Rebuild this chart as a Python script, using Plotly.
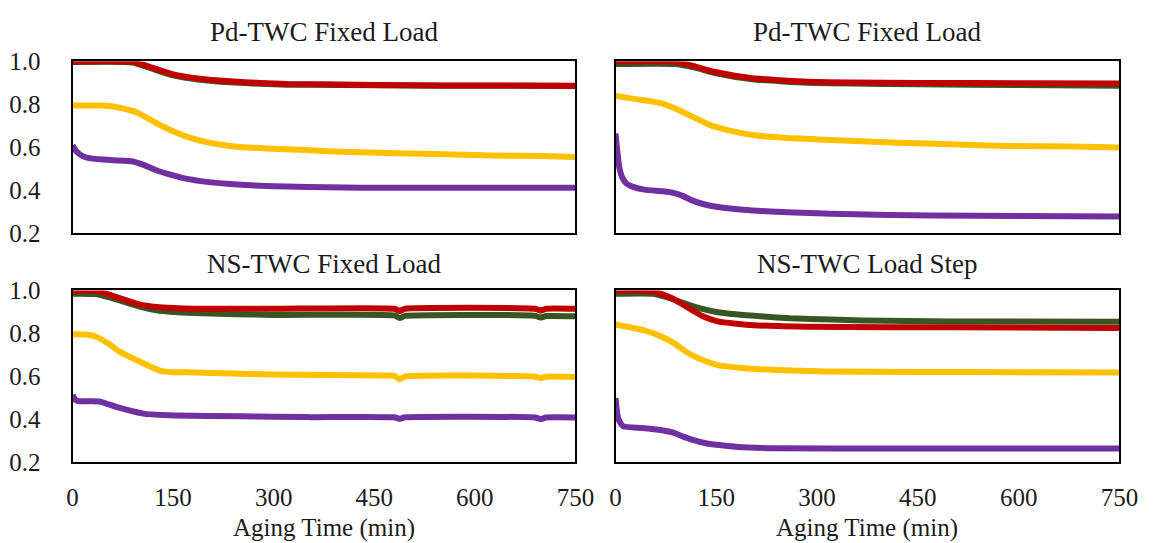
import plotly.graph_objects as go

# ---- Panel titles and axis labels ----
panel_titles = ["Pd-TWC Fixed Load", "Pd-TWC Fixed Load", "NS-TWC Fixed Load", "NS-TWC Load Step"]
x_title = "Aging Time (min)"
x_ticks = [0, 150, 300, 450, 600, 750]
y_ticks = [0.2, 0.4, 0.6, 0.8, 1.0]

# ---- Panel 1: Pd-TWC Fixed Load ----
p1_red_t = [0, 90, 120, 150, 190, 235, 280, 320, 400, 500, 600, 750]
p1_red = [1.0, 0.998, 0.97, 0.94, 0.92, 0.908, 0.9, 0.895, 0.893, 0.889, 0.888, 0.887]
p1_green_t = [0, 90, 120, 150, 190, 235, 280, 320, 400, 500, 600, 750]
p1_green = [0.997, 0.995, 0.965, 0.935, 0.915, 0.903, 0.896, 0.892, 0.891, 0.888, 0.887, 0.886]
p1_yellow_t = [0, 45, 70, 96, 124, 150, 169, 200, 235, 290, 347, 400, 458, 540, 625, 700, 750]
p1_yellow = [0.795, 0.795, 0.785, 0.763, 0.715, 0.675, 0.652, 0.625, 0.607, 0.595, 0.588, 0.58, 0.575, 0.57, 0.563, 0.56, 0.556]
p1_purple_t = [0, 5, 15, 30, 60, 90, 105, 124, 150, 169, 200, 235, 280, 320, 380, 430, 550, 750]
p1_purple = [0.61, 0.585, 0.56, 0.548, 0.541, 0.535, 0.52, 0.495, 0.47, 0.455, 0.44, 0.43, 0.422, 0.418, 0.415, 0.413, 0.413, 0.413]

# ---- Panel 2: Pd-TWC Fixed Load ----
p2_red_t = [0, 90, 120, 150, 204, 250, 285, 350, 450, 600, 750]
p2_red = [1.0, 0.998, 0.975, 0.95, 0.922, 0.912, 0.906, 0.902, 0.9, 0.899, 0.898]
p2_green_t = [0, 90, 120, 150, 204, 250, 285, 350, 450, 600, 750]
p2_green = [0.988, 0.988, 0.97, 0.945, 0.917, 0.907, 0.901, 0.897, 0.894, 0.89, 0.887]
p2_yellow_t = [0, 30, 70, 97, 120, 140, 170, 204, 250, 312, 419, 500, 580, 680, 750]
p2_yellow = [0.84, 0.825, 0.804, 0.77, 0.735, 0.705, 0.678, 0.658, 0.645, 0.636, 0.622, 0.615, 0.607, 0.605, 0.6]
p2_purple_t = [0, 3, 6, 10, 16, 25, 43, 70, 86, 100, 113, 130, 150, 190, 231, 300, 339, 473, 600, 750]
p2_purple = [0.665, 0.57, 0.5, 0.46, 0.433, 0.418, 0.404, 0.396, 0.389, 0.375, 0.355, 0.337, 0.324, 0.31, 0.302, 0.294, 0.29, 0.283, 0.281, 0.279]

# ---- Panel 3: NS-TWC Fixed Load ----
p3_red_t = [0, 35, 69, 100, 125, 150, 181, 300, 480, 488, 496, 690, 698, 706, 750]
p3_red = [1.0, 0.998, 0.966, 0.935, 0.923, 0.918, 0.915, 0.915, 0.915, 0.905, 0.915, 0.915, 0.906, 0.915, 0.915]
p3_green_t = [0, 35, 69, 100, 125, 150, 181, 300, 480, 488, 496, 690, 698, 706, 750]
p3_green = [0.985, 0.983, 0.955, 0.925, 0.908, 0.9, 0.895, 0.886, 0.884, 0.872, 0.882, 0.882, 0.874, 0.881, 0.88]
p3_yellow_t = [0, 20, 35, 55, 69, 97, 131, 150, 181, 294, 462, 480, 488, 496, 690, 698, 706, 750]
p3_yellow = [0.796, 0.795, 0.785, 0.75, 0.718, 0.674, 0.626, 0.62, 0.619, 0.609, 0.604, 0.603, 0.587, 0.6, 0.599, 0.592, 0.599, 0.598]
p3_purple_t = [0, 5, 10, 40, 69, 108, 153, 250, 350, 480, 488, 496, 690, 698, 706, 750]
p3_purple = [0.514, 0.49, 0.485, 0.484, 0.455, 0.426, 0.419, 0.415, 0.411, 0.41, 0.403, 0.41, 0.409, 0.402, 0.409, 0.409]

# ---- Panel 4: NS-TWC Load Step ----
p4_red_t = [0, 50, 70, 87, 100, 114, 130, 152, 180, 206, 250, 287, 400, 600, 750]
p4_red = [1.0, 0.998, 0.982, 0.959, 0.935, 0.908, 0.88, 0.856, 0.845, 0.838, 0.834, 0.831, 0.829, 0.828, 0.826]
p4_green_t = [0, 55, 75, 98, 125, 150, 179, 220, 260, 320, 368, 500, 750]
p4_green = [0.985, 0.985, 0.97, 0.945, 0.918, 0.9, 0.889, 0.879, 0.871, 0.865, 0.86, 0.856, 0.854]
p4_yellow_t = [0, 20, 44, 65, 87, 105, 125, 152, 180, 206, 260, 314, 450, 600, 750]
p4_yellow = [0.842, 0.83, 0.813, 0.79, 0.755, 0.715, 0.682, 0.653, 0.642, 0.635, 0.628, 0.623, 0.621, 0.62, 0.619]
p4_purple_t = [0, 2, 4, 8, 12, 40, 71, 85, 98, 115, 136, 160, 179, 233, 400, 750]
p4_purple = [0.5, 0.44, 0.405, 0.38, 0.368, 0.36, 0.349, 0.34, 0.324, 0.305, 0.288, 0.279, 0.273, 0.266, 0.265, 0.265]

COLORS = {"green": "#375623", "red": "#C00000", "yellow": "#FFC000", "purple": "#7030A0"}
FONT = "Liberation Serif, Times New Roman, serif"
TXT = "#1a1a1a"
TICK_SIZE = 25
TITLE_SIZE = 27
AXIS_TITLE_SIZE = 25

panels = [
    {"green": (p1_green_t, p1_green), "red": (p1_red_t, p1_red),
     "yellow": (p1_yellow_t, p1_yellow), "purple": (p1_purple_t, p1_purple)},
    {"green": (p2_green_t, p2_green), "red": (p2_red_t, p2_red),
     "yellow": (p2_yellow_t, p2_yellow), "purple": (p2_purple_t, p2_purple)},
    {"green": (p3_green_t, p3_green), "red": (p3_red_t, p3_red),
     "yellow": (p3_yellow_t, p3_yellow), "purple": (p3_purple_t, p3_purple)},
    {"green": (p4_green_t, p4_green), "red": (p4_red_t, p4_red),
     "yellow": (p4_yellow_t, p4_yellow), "purple": (p4_purple_t, p4_purple)},
]

W, H = 1157, 543
# plot-area boxes in pixels: (left, right, top, bottom)
boxes = [(68, 582, 51, 232), (623, 1138, 51, 232), (68, 582, 292, 473), (623, 1138, 292, 473)]

fig = go.Figure()
layout = {}
for i, (panel, box) in enumerate(zip(panels, boxes)):
    n = "" if i == 0 else str(i + 1)
    for name in ["green", "red", "yellow", "purple"]:
        t, v = panel[name]
        fig.add_trace(go.Scatter(
            x=t, y=v, mode="lines", xaxis="x" + n, yaxis="y" + n,
            line=dict(color=COLORS[name], width=6, shape="spline", smoothing=0.5),
            showlegend=False, hoverinfo="skip"))
    left, right, top, bottom = box
    bottom_row = i >= 2
    left_col = i % 2 == 0
    layout["xaxis" + n] = dict(
        domain=[left / W, right / W], anchor="y" + n, range=[0, 750],
        tickvals=x_ticks, showticklabels=bottom_row, ticks="",
        ticklabelstandoff=12, showgrid=False, zeroline=False,
        showline=True, linecolor="black", linewidth=2, mirror=True,
        tickfont=dict(family=FONT, size=TICK_SIZE, color=TXT))
    layout["yaxis" + n] = dict(
        domain=[1 - bottom / H, 1 - top / H], anchor="x" + n, range=[0.2, 1.0],
        tickvals=y_ticks, tickformat=".1f", showticklabels=left_col, ticks="",
        ticklabelstandoff=25, showgrid=False, zeroline=False,
        showline=True, linecolor="black", linewidth=2, mirror=True,
        tickfont=dict(family=FONT, size=TICK_SIZE, color=TXT))

annotations = []
title_y = [20, 20, 264, 264]
for i, box in enumerate(boxes):
    left, right, top, bottom = box
    annotations.append(dict(
        text=panel_titles[i], x=(left + right) / 2 / W, y=1 - title_y[i] / H,
        xref="paper", yref="paper", xanchor="center", yanchor="middle",
        showarrow=False, font=dict(family=FONT, size=TITLE_SIZE, color=TXT)))
for box in boxes[2:]:
    left, right, top, bottom = box
    annotations.append(dict(
        text=x_title, x=(left + right) / 2 / W, y=0,
        xref="paper", yref="paper", xanchor="center", yanchor="bottom",
        yshift=-15, showarrow=False,
        font=dict(family=FONT, size=AXIS_TITLE_SIZE, color=TXT)))

fig.update_layout(
    width=W, height=H, margin=dict(l=0, r=0, t=0, b=0),
    paper_bgcolor="white", plot_bgcolor="white",
    annotations=annotations, **layout)

fig.write_html("out.html")
